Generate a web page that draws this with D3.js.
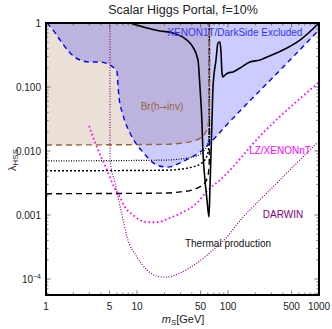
<!DOCTYPE html>
<html lang="en">
<head>
<meta charset="utf-8">
<title>Scalar Higgs Portal</title>
<script src="https://d3js.org/d3.v7.min.js"></script>
<style>
    body{
        margin: 0;
        background-color: white;
    }
    svg{
        display: block;
        font-family: "Liberation Sans", Arial, sans-serif;
    }
</style>
</head>
<body>
<div id="chart"></div>
<script>

// all curves as [m_S (GeV), lambda_HSS]
var xenonExcluded = [[1.03,1],[1.26,0.70],[1.43,0.54],[1.84,0.34],[2.36,0.264],[3.05,0.246],[3.92,0.246],
    [4.8,0.229],[5.45,0.205],[6.03,0.172],[6.18,0.107],[6.34,0.070],[7.02,0.0365],[8.38,0.0191],[10,0.0124],
    [11.6,0.0096],[13.9,0.0072],[16.6,0.0060],[21.9,0.0056],[29.7,0.0065],[38.2,0.0078],[49.2,0.0096],
    [63.4,0.0133],[85.9,0.0213],[480,0.264],[1000,0.78]];

var brInvNow   = [[1,0.0124],[20,0.0127],[30,0.0132],[40,0.0141],[50,0.016],[55,0.018],[58,0.021],[60,0.0237],[61,0.028],[62,0.036],[62.4,0.052],[62.5,1]];
var brInvFut1  = [[1,0.0070],[20,0.0072],[30,0.0075],[40,0.0080],[50,0.0090],[55,0.0102],[58,0.0115],[60,0.0132],[61,0.015],[62,0.0197],[62.4,0.029],[62.5,1]];
var brInvFut2  = [[1,0.0049],[20,0.0050],[30,0.0052],[40,0.0056],[50,0.0063],[55,0.0071],[58,0.0080],[60,0.0093],[61,0.0105],[62,0.0138],[62.4,0.020],[62.5,1]];
var brInvFut3  = [[1,0.00215],[20,0.0022],[30,0.0023],[40,0.00245],[50,0.0028],[55,0.0031],[58,0.0035],[60,0.0041],[61,0.0046],[62,0.006],[62.4,0.009],[62.5,1]];

var thermal = [[8.38,1],[12.9,0.835],[17.9,0.75],[24.9,0.70],[32.0,0.60],[38.2,0.487],[41.2,0.42],[46.8,0.264],
    [49.2,0.1],[51.6,0.0305],[53.1,0.0093],[55.9,0.00352],[58.8,0.00171],[61.8,0.00093],
    [63.4,0.00274],[65.1,0.0093],[66.7,0.0305],[68.4,0.1],[73.8,0.264],[77.6,0.487],[81.7,0.505],
    [83.8,0.34],[85.9,0.166],[88.1,0.143],[92.7,0.154],[100,0.166],[113.5,0.172],[135.5,0.198],
    [174,0.246],[225,0.264],[268,0.294],[402,0.379],[618,0.542],[950,0.93],[1000,1]];

var lzXenonNT = [[2.97,0.0246],[3.73,0.0104],[4.68,0.00505],[5.59,0.00274],[6.5,0.00191],[7.38,0.00133],
    [9.03,0.001],[11.35,0.00081],[13.9,0.00077],[16.6,0.00077],[23.0,0.0009],[32.0,0.00111],[45.6,0.00154],
    [60.3,0.00246],[81.7,0.00352],[242,0.0191],[975,0.1155]];

var darwin = [[5.05,1],[5.06,0.00724],[5.73,0.00316],[6.18,0.00191],[7.02,0.00084],[7.77,0.000453],[10,0.00022],
    [12.9,0.000138],[16.6,0.000111],[21.3,0.000107],[29.7,0.000124],[45.6,0.000178],[68.4,0.000284],
    [97.5,0.000453],[128.8,0.00075],[304,0.00264],[975,0.0138]];

var xMajor = [1, 5, 10, 50, 100, 500, 1000];
var xMinor = [2,3,4,6,7,8,9,20,30,40,60,70,80,90,200,300,400,600,700,800,900];
var yMajor = [1, 0.1, 0.01, 0.001, 1e-4];
var yMajorLabels = ["1", "0.100", "0.010", "0.001", "10^-4"];

var width = 332, height = 329;
var plotLeft = 46, plotRight = 319, plotTop = 23, plotBottom = 295;

var svg = d3.select("#chart").append("svg")
    .attr("width", width)
    .attr("height", height);

var x = d3.scaleLog().domain([1, 1000]).range([plotLeft, plotRight]);
var y = d3.scaleLog().domain([Math.pow(10, -4.25), 1]).range([plotBottom, plotTop]);

var yMinor = [];
[1e-5, 1e-4, 1e-3, 1e-2, 1e-1].forEach(function(d){
    for (var k = 2; k <= 9; k++){
        var v = d * k;
        if (v > y.domain()[0] && v < 1) yMinor.push(v);
    }
});

svg.append("defs").append("clipPath").attr("id", "plotclip")
  .append("rect")
    .attr("x", plotLeft).attr("y", plotTop)
    .attr("width", plotRight - plotLeft).attr("height", plotBottom - plotTop);

var plot = svg.append("g").attr("clip-path", "url(#plotclip)");

var line = d3.line()
    .x(d => x(d[0]))
    .y(d => y(d[1]))
    .curve(d3.curveMonotoneX);

// Br(h->inv) excluded region
plot.append("path")
    .attr("d", line(brInvNow) + "L" + x(1) + "," + y(1) + "Z")
    .attr("fill", "rgb(153,102,51)")
    .attr("fill-opacity", 0.2);

// XENON1T/DarkSide excluded region
plot.append("path")
    .attr("d", line(xenonExcluded) + "L" + x(1000) + "," + y(1) + "Z")
    .attr("fill", "rgb(0,0,255)")
    .attr("fill-opacity", 0.2);

function drawCurve(data, color, w, dash){
    plot.append("path")
        .attr("d", line(data))
        .attr("fill", "none")
        .attr("stroke", color)
        .attr("stroke-width", w)
        .attr("stroke-dasharray", dash);
}

drawCurve(brInvFut1, "#000", 1.2, "1,1.5");
drawCurve(brInvFut2, "#000", 1.4, "2,2");
drawCurve(brInvFut3, "#000", 1.4, "6,4");
drawCurve(brInvNow, "rgb(153,102,51)", 1.4, "6,4");
drawCurve(xenonExcluded, "rgb(0,0,255)", 1.4, "5,4");
drawCurve(lzXenonNT, "rgb(255,0,255)", 1.8, "1.6,2.6");
drawCurve(darwin, "rgb(128,0,128)", 1.2, "1,1.6");
drawCurve(thermal, "#000", 1.6, null);

// labels inside plot
function label(text, mx, ly, color){
    return svg.append("text")
        .attr("x", x(mx)).attr("y", y(ly))
        .attr("text-anchor", "middle")
        .attr("font-size", 10)
        .attr("fill", color)
        .text(text);
}
label("XENON1T/DarkSide Excluded", 119, 0.63, "rgb(50,50,255)");
var br = label("", 18.8, 0.044, "rgb(153,102,51)");
br.append("tspan").text("Br(h");
br.append("tspan").attr("font-family", "DejaVu Sans").attr("font-size", 9).text("\u2192");
br.append("tspan").text("inv)");
label("LZ/XENONnT", 373, 0.009, "rgb(255,0,255)");
label("DARWIN", 402, 0.0009, "rgb(128,0,128)");
label("Thermal production", 100, 0.00032, "#111");

// ticks on all four sides
var ticks = svg.append("g").attr("stroke", "#555").attr("stroke-width", 0.8);
xMajor.concat(xMinor).forEach(function(v){
    var len = xMajor.indexOf(v) >= 0 ? 4.5 : 2.5;
    ticks.append("line").attr("x1", x(v)).attr("x2", x(v)).attr("y1", plotBottom).attr("y2", plotBottom - len);
    ticks.append("line").attr("x1", x(v)).attr("x2", x(v)).attr("y1", plotTop).attr("y2", plotTop + len);
});
yMajor.concat(yMinor).forEach(function(v){
    var len = yMajor.indexOf(v) >= 0 ? 4.5 : 2.5;
    ticks.append("line").attr("y1", y(v)).attr("y2", y(v)).attr("x1", plotLeft).attr("x2", plotLeft + len);
    ticks.append("line").attr("y1", y(v)).attr("y2", y(v)).attr("x1", plotRight).attr("x2", plotRight - len);
});

// frame
svg.append("rect")
    .attr("x", plotLeft).attr("y", plotTop)
    .attr("width", plotRight - plotLeft).attr("height", plotBottom - plotTop)
    .attr("fill", "none")
    .attr("stroke", "#000")
    .attr("stroke-width", 2);

// tick labels
svg.append("g").selectAll("text")
    .data(xMajor)
    .enter().append("text")
    .attr("x", d => x(d))
    .attr("y", 310)
    .attr("text-anchor", "middle")
    .attr("font-size", 10)
    .attr("fill", "#222")
    .text(d => d);

yMajor.forEach(function(v, i){
    var t = svg.append("text")
        .attr("x", 41)
        .attr("y", y(v) + 3.5)
        .attr("text-anchor", "end")
        .attr("font-size", 10)
        .attr("fill", "#222");
    var s = yMajorLabels[i];
    if (s.indexOf("^") >= 0){
        var p = s.split("^");
        t.append("tspan").text(p[0]);
        t.append("tspan").attr("dy", -4).attr("font-size", 7).text(p[1].replace("-", "\u2212"));
    } else {
        t.text(s);
    }
});

// title and axis titles
svg.append("text")
    .attr("x", 183).attr("y", 14)
    .attr("text-anchor", "middle")
    .attr("font-size", 12.5)
    .attr("fill", "#222")
    .text("Scalar Higgs Portal, f=10%");

var xt = svg.append("text")
    .attr("x", 183).attr("y", 323)
    .attr("text-anchor", "middle")
    .attr("font-size", 11)
    .attr("fill", "#222");
xt.append("tspan").attr("font-style", "italic").text("m");
xt.append("tspan").attr("font-style", "italic").attr("font-size", 8).attr("dy", 2).text("S");
xt.append("tspan").attr("dy", -2).text("[GeV]");

var yt = svg.append("text")
    .attr("transform", "translate(16," + 160 + ") rotate(-90)")
    .attr("text-anchor", "middle")
    .attr("font-size", 11)
    .attr("fill", "#222");
yt.append("tspan").text("\u03bb");
yt.append("tspan").attr("font-size", 8).attr("dy", 2).text("HSS");

</script>
</body>
</html>
